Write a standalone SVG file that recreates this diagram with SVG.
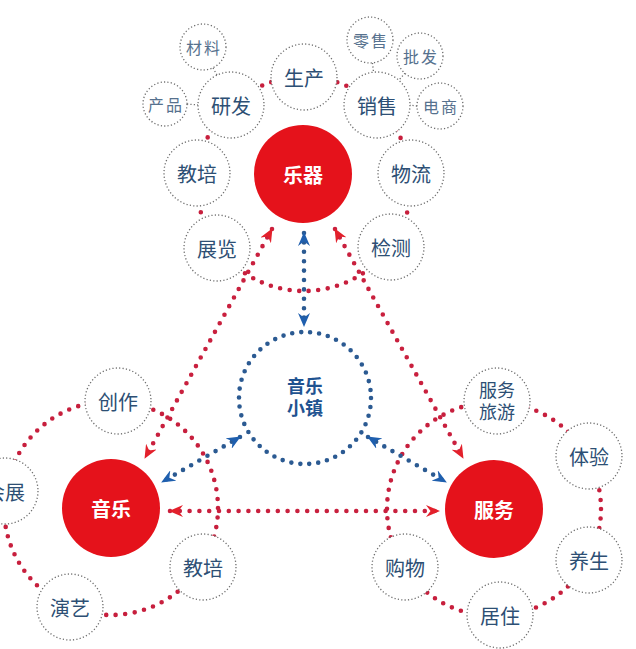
<svg xmlns="http://www.w3.org/2000/svg" width="636" height="649" viewBox="0 0 636 649">
<style>
.ring{fill:none;stroke:#c71f3d;stroke-width:4.6;stroke-linecap:round;stroke-dasharray:0 9.6}
.rl{fill:none;stroke:#c9203e;stroke-width:4.6;stroke-linecap:round;stroke-dasharray:0 9.8}
.bl{fill:none;stroke:#2b5a92;stroke-width:4.6;stroke-linecap:round;stroke-dasharray:0 9.4}
.gl{fill:none;stroke:#6d6d6d;stroke-width:1.3;stroke-dasharray:1.2 2.2}
.sat{fill:#fff;stroke:#6d6d6d;stroke-width:1.3;stroke-dasharray:1.2 2.2}
.main{fill:#e5121b}
.t{font-family:"Noto Sans CJK SC","Noto Sans",sans-serif;font-size:20px;fill:#2d4f74;text-anchor:middle;dominant-baseline:central}
.t2{font-family:"Noto Sans CJK SC","Noto Sans",sans-serif;font-size:18px;fill:#2d4f74;text-anchor:middle}
.s{font-family:"Noto Sans CJK SC","Noto Sans",sans-serif;font-size:16px;fill:#56718e;text-anchor:middle;dominant-baseline:central;letter-spacing:2px}
.m{font-family:"Noto Sans CJK SC","Noto Sans",sans-serif;font-size:20px;font-weight:bold;fill:#fff;text-anchor:middle;dominant-baseline:central}
.c{font-family:"Noto Sans CJK SC","Noto Sans",sans-serif;font-size:18px;font-weight:bold;fill:#1f5391;text-anchor:middle}
</style>
<defs>
<marker id="ar" viewBox="0 0 14 12" refX="13" refY="6" markerWidth="14" markerHeight="12" markerUnits="userSpaceOnUse" orient="auto-start-reverse"><path d="M0,0 L14,6 L0,12 L4.5,6 z" fill="#e3202b"/></marker>
<marker id="ab" viewBox="0 0 14 12" refX="13" refY="6" markerWidth="14" markerHeight="12" markerUnits="userSpaceOnUse" orient="auto-start-reverse"><path d="M0,0 L14,6 L0,12 L4.5,6 z" fill="#1f5fae"/></marker>
</defs>
<rect width="636" height="649" fill="#fff"/>
<g id="connectors">
<circle class="ring" cx="304" cy="184" r="107"/>
<circle class="ring" cx="111" cy="508" r="107"/>
<circle class="ring" cx="494" cy="509" r="107"/>
<line class="gl" x1="187" y1="104" x2="198" y2="105"/>
<line class="gl" x1="213" y1="68" x2="217" y2="75"/>
<line class="gl" x1="372.5" y1="63" x2="373.5" y2="72"/>
<line class="gl" x1="405" y1="73" x2="399" y2="80"/>
<line class="gl" x1="417" y1="106" x2="410" y2="105"/>
<path class="rl" d="M272,229 L145,458" marker-start="url(#ar)" marker-end="url(#ar)"/>
<path class="rl" d="M335,229 L463,458" marker-start="url(#ar)" marker-end="url(#ar)"/>
<path class="rl" d="M170,511 L439,511" marker-start="url(#ar)" marker-end="url(#ar)"/>
<path class="bl" d="M304,233 L304,326" marker-start="url(#ab)" marker-end="url(#ab)"/>
<path class="bl" d="M240,437 L162,482" marker-start="url(#ab)" marker-end="url(#ab)"/>
<path class="bl" d="M368,437 L446,482" marker-start="url(#ab)" marker-end="url(#ab)"/>
</g>
<g id="n-yueqi"><circle class="main" cx="303" cy="174" r="49"/><text class="m" x="303" y="174">乐器</text></g>
<g id="n-yinyue"><circle class="main" cx="111" cy="508" r="49"/><text class="m" x="111" y="508">音乐</text></g>
<g id="n-fuwu"><circle class="main" cx="494" cy="509" r="49"/><text class="m" x="494" y="509">服务</text></g>
<g id="n-town"><circle cx="305" cy="398" r="66" fill="#fff" stroke="#2b5a92" stroke-width="4.6" stroke-linecap="round" stroke-dasharray="0 9.02"/><text class="c" x="305" y="393"><tspan x="305">音乐</tspan><tspan x="305" dy="22">小镇</tspan></text></g>
<g id="n-yanfa"><circle class="sat" cx="231" cy="105" r="33"/><text class="t" x="231" y="105">研发</text></g>
<g id="n-shengchan"><circle class="sat" cx="304" cy="77" r="33"/><text class="t" x="304" y="77">生产</text></g>
<g id="n-xiaoshou"><circle class="sat" cx="377" cy="105" r="33"/><text class="t" x="377" y="105">销售</text></g>
<g id="n-jiaopei1"><circle class="sat" cx="197" cy="173" r="33"/><text class="t" x="197" y="173">教培</text></g>
<g id="n-wuliu"><circle class="sat" cx="411" cy="173" r="33"/><text class="t" x="411" y="173">物流</text></g>
<g id="n-zhanlan"><circle class="sat" cx="217" cy="248" r="33"/><text class="t" x="217" y="248">展览</text></g>
<g id="n-jiance"><circle class="sat" cx="391" cy="247" r="33"/><text class="t" x="391" y="247">检测</text></g>
<g id="n-cailiao"><circle class="sat" cx="203" cy="47" r="23"/><text class="s" x="204" y="47">材料</text></g>
<g id="n-chanpin"><circle class="sat" cx="165" cy="104" r="22"/><text class="s" x="166" y="104">产品</text></g>
<g id="n-lingshou"><circle class="sat" cx="370" cy="40" r="23"/><text class="s" x="371" y="40">零售</text></g>
<g id="n-pifa"><circle class="sat" cx="420" cy="56" r="23"/><text class="s" x="421" y="56">批发</text></g>
<g id="n-dianshang"><circle class="sat" cx="440" cy="106" r="23"/><text class="s" x="441" y="106">电商</text></g>
<g id="n-chuangzuo"><circle class="sat" cx="118" cy="401" r="33"/><text class="t" x="118" y="401">创作</text></g>
<g id="n-huizhan"><circle class="sat" cx="5" cy="491" r="33"/><text class="t" x="5" y="491">会展</text></g>
<g id="n-yanyi"><circle class="sat" cx="70" cy="607" r="33"/><text class="t" x="70" y="607">演艺</text></g>
<g id="n-jiaopei2"><circle class="sat" cx="203" cy="567" r="33"/><text class="t" x="203" y="567">教培</text></g>
<g id="n-lvyou"><circle class="sat" cx="497" cy="401" r="33"/><text class="t2" x="497" y="397"><tspan x="497">服务</tspan><tspan x="497" dy="22">旅游</tspan></text></g>
<g id="n-tiyan"><circle class="sat" cx="589" cy="456" r="33"/><text class="t" x="589" y="456">体验</text></g>
<g id="n-yangsheng"><circle class="sat" cx="589" cy="560" r="33"/><text class="t" x="589" y="560">养生</text></g>
<g id="n-juzhu"><circle class="sat" cx="500" cy="615" r="33"/><text class="t" x="500" y="615">居住</text></g>
<g id="n-gouwu"><circle class="sat" cx="405" cy="567" r="33"/><text class="t" x="405" y="567">购物</text></g>
</svg>
